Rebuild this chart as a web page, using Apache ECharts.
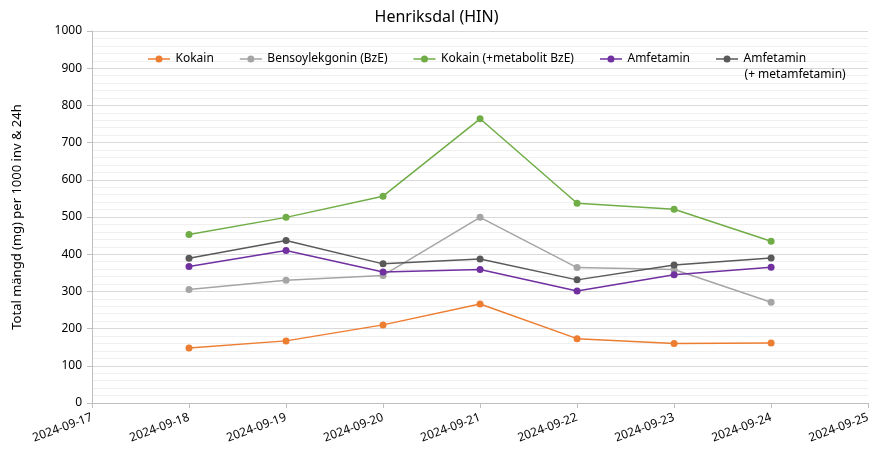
<!DOCTYPE html>
<html><head><meta charset="utf-8">
<script src="https://cdn.jsdelivr.net/npm/echarts@6/dist/echarts.min.js"></script>
<style>html,body{margin:0;padding:0;background:#fff}#c{width:873px;height:451px}</style>
</head><body><div id="c"></div>
<script>
const categories = ['2024-09-17','2024-09-18','2024-09-19','2024-09-20','2024-09-21','2024-09-22','2024-09-23','2024-09-24','2024-09-25'];
const kokain = [null,148,167,210,266,173,160,161,null];
const bze = [null,305,330,343,499,364,359,271,null];
const kokainMetabolit = [null,453,499,556,764,537,521,435,null];
const amfetamin = [null,367,410,352,359,301,345,365,null];
const amfetaminMeta = [null,389,437,374,387,331,371,390,null];
const seriesNames = ['Kokain','Bensoylekgonin (BzE)','Kokain (+metabolit BzE)','Amfetamin','Amfetamin (+ metamfetamin)'];
const colors = ['#ED7D31','#A5A5A5','#70AD47','#7030A0','#595959'];
const dataSets = [kokain,bze,kokainMetabolit,amfetamin,amfetaminMeta];
const font = 'Noto Sans';
const legendIcon = 'path://M0,3.6 L22,3.6 L22,4.9 L0,4.9 Z M7.5,4.25 A3.5,3.5 0 1 1 14.5,4.25 A3.5,3.5 0 1 1 7.5,4.25 Z';
const chart = echarts.init(document.getElementById('c'));
chart.setOption({
  animation:false,
  title:{text:'Henriksdal (HIN)',left:'center',top:4,textStyle:{fontFamily:font,fontSize:16,fontWeight:'normal',color:'#000'}},
  legend:{top:48,left:143,itemGap:26,itemWidth:27,itemHeight:7,z:10,
    textStyle:{fontFamily:font,fontSize:12,color:'#000',padding:[0,0,0,-2]},
    formatter:n=>n==='Amfetamin (+ metamfetamin)'?'Amfetamin':n,
    data:seriesNames.map((n,i)=>({name:n,icon:legendIcon,itemStyle:{color:colors[i]}}))
  },
  graphic:[{type:'text',id:'leg2',left:0,top:0,z:10,style:{text:'(+ metamfetamin)',fontFamily:font,fontSize:12,fill:'#000'}}],
  grid:{left:92,right:4,top:31,bottom:48},
  xAxis:{type:'category',data:categories,boundaryGap:false,
    axisLine:{lineStyle:{color:'#bfbfbf'}},axisTick:{show:true,length:5,lineStyle:{color:'#bfbfbf'}},
    axisLabel:{rotate:20,fontFamily:font,fontSize:12,color:'#000',margin:14,interval:0},
    splitLine:{show:false}},
  yAxis:{type:'value',min:0,max:1000,interval:100,
    name:'Total mängd (mg) per 1000 inv & 24h',nameLocation:'middle',nameGap:68,nameRotate:90,
    nameTextStyle:{fontFamily:font,fontSize:13,color:'#000'},
    axisLine:{show:true,lineStyle:{color:'#bfbfbf'}},axisTick:{show:true,length:5,lineStyle:{color:'#bfbfbf'}},
    axisLabel:{fontFamily:font,fontSize:12,color:'#000',margin:10,formatter:v=>String(v)},
    splitLine:{lineStyle:{color:'#d9d9d9'}},
    minorTick:{show:false,splitNumber:5},
    minorSplitLine:{show:true,lineStyle:{color:'#f0f0f0'}}},
  series:dataSets.map((d,i)=>({name:seriesNames[i],type:'line',data:d,symbol:'circle',symbolSize:7,
    itemStyle:{color:colors[i]},lineStyle:{color:colors[i],width:1.5},connectNulls:false,z:i===1?1:2}))
});
// position second line of the last legend label directly under its first line
(function(){
  const legendView = chart._componentsViews.find(v=>v.type==='legend.plain'||v.__model&&v.__model.mainType==='legend');
  let placed=false;
  if(legendView){
    const group = legendView.getContentGroup ? legendView.getContentGroup() : null;
    if(group){
      const items = group.children();
      const last = items[items.length-1];
      if(last){
        let txt=null;
        last.eachChild(c=>{ if(c.type==='text') txt=c; });
        if(txt){
          const br = txt.getBoundingRect();
          const gx = legendView.group.x + group.x + last.x + br.x;
          const gy = legendView.group.y + group.y + last.y + br.y;
          chart.setOption({graphic:[{id:'leg2',left:gx+1,top:gy+16}]});
          placed=true;
        }
      }
    }
  }
  if(!placed) chart.setOption({graphic:[{id:'leg2',left:745,top:66}]});
})();
</script></body></html>
